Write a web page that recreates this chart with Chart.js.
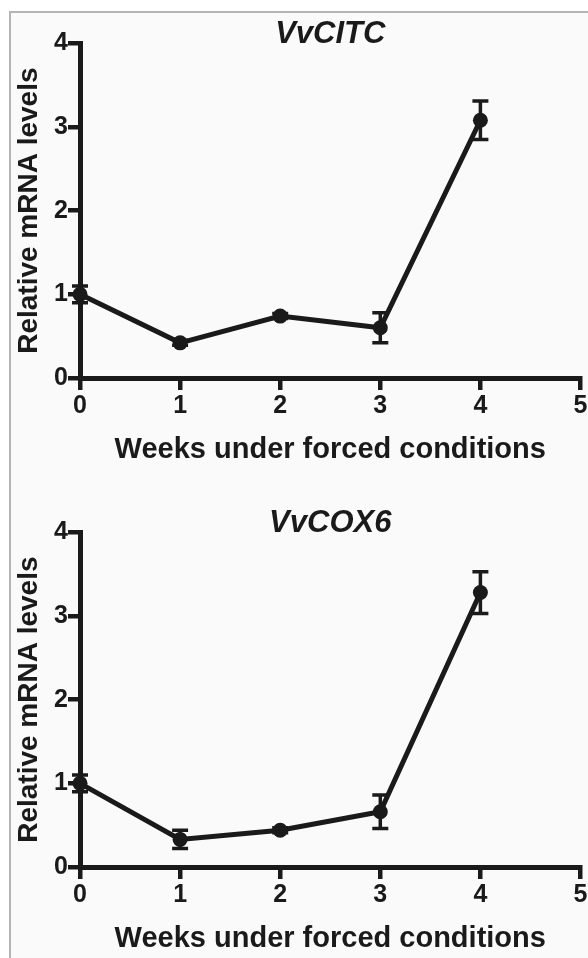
<!DOCTYPE html>
<html>
<head>
<meta charset="utf-8">
<script src="https://cdn.jsdelivr.net/npm/chart.js@4.4.1/dist/chart.umd.min.js"></script>
<style>
  html, body { margin: 0; padding: 0; background: #fff; overflow: hidden; }
  body { width: 588px; height: 958px; position: relative; }
  #frame {
    position: absolute; left: 9px; top: 11px; right: 0; bottom: 0;
    border-left: 2px solid #b4b4b4; border-top: 2px solid #b4b4b4;
    background: #fafafa;
  }
  canvas { position: absolute; left: 0; }
</style>
</head>
<body>
<div id="frame"></div>
<canvas id="chartTop" width="588" height="489" style="top:0"></canvas>
<canvas id="chartBottom" width="588" height="489" style="top:489px"></canvas>
<script>
// Dados
const weeks = [0, 1, 2, 3, 4];
const xTicks = [0, 1, 2, 3, 4, 5];
const yTicks = [0, 1, 2, 3, 4];

const citcValues = [1.0, 0.42, 0.74, 0.60, 3.08];
const citcErrors = [0.10, 0.03, 0.03, 0.18, 0.23];

const cox6Values = [1.0, 0.33, 0.44, 0.66, 3.28];
const cox6Errors = [0.10, 0.11, 0.03, 0.20, 0.25];

const INK = '#1a1a1a';
const FONT = '"Liberation Sans", Arial, sans-serif';

// barras de erro desenhadas com as escalas do gráfico
const errorBars = {
    id: 'errorBars',
    beforeDatasetsDraw(chart, args, opts) {
        const errs = opts.errors || [];
        const xs = chart.scales.x, ys = chart.scales.y;
        const ctx = chart.ctx;
        const data = chart.data.datasets[0].data;
        ctx.save();
        ctx.strokeStyle = INK;
        ctx.lineWidth = 3.5;
        data.forEach((p, i) => {
            const e = errs[i];
            if (!e) return;
            const x = xs.getPixelForValue(p.x);
            const yTop = ys.getPixelForValue(p.y + e);
            const yBot = ys.getPixelForValue(p.y - e);
            ctx.beginPath();
            ctx.moveTo(x, yTop); ctx.lineTo(x, yBot);
            ctx.moveTo(x - 8, yTop); ctx.lineTo(x + 8, yTop);
            ctx.moveTo(x - 8, yBot); ctx.lineTo(x + 8, yBot);
            ctx.stroke();
        });
        ctx.restore();
    }
};

function makeChart(canvasId, title, values, errors) {
    const points = weeks.map((w, i) => ({ x: w, y: values[i] }));
    return new Chart(document.getElementById(canvasId), {
        type: 'line',
        data: {
            datasets: [{
                data: points,
                borderColor: INK,
                borderWidth: 5,
                pointRadius: 7.5,
                pointBackgroundColor: INK,
                pointBorderColor: INK,
                pointBorderWidth: 0,
                tension: 0,
                clip: false
            }]
        },
        options: {
            responsive: false,
            animation: false,
            layout: { padding: { left: 0, right: 4, top: 0, bottom: 0 } },
            plugins: {
                legend: { display: false },
                tooltip: { enabled: false },
                title: {
                    display: true,
                    text: title,
                    color: INK,
                    fullSize: false,
                    font: { family: FONT, size: 31, weight: 'bold', style: 'italic', lineHeight: 0.6 },
                    padding: { top: 24.7, bottom: 0 }
                },
                errorBars: { errors: errors }
            },
            scales: {
                x: {
                    type: 'linear',
                    min: 0,
                    max: 5,
                    afterBuildTicks: s => { s.ticks = xTicks.map(v => ({ value: v })); },
                    afterFit: s => { s.height = 111; s.paddingRight = 0; s.paddingLeft = 0; },
                    border: { display: true, color: INK, width: 5 },
                    grid: { drawOnChartArea: false, drawTicks: true, tickLength: 12, lineWidth: 4.5, color: INK },
                    ticks: { color: INK, padding: 1, font: { family: FONT, size: 25, weight: 'bold' } },
                    title: {
                        display: true,
                        text: 'Weeks under forced conditions',
                        color: INK,
                        font: { family: FONT, size: 29, weight: 'bold' },
                        padding: { top: 0, bottom: 21.6 }
                    }
                },
                y: {
                    min: 0,
                    max: 4,
                    afterBuildTicks: s => { s.ticks = yTicks.map(v => ({ value: v })); },
                    afterFit: s => { s.width = 80; },
                    border: { display: true, color: INK, width: 5 },
                    grid: { drawOnChartArea: false, drawTicks: true, tickLength: 12, lineWidth: 4.5, color: INK },
                    ticks: { color: INK, padding: 0, font: { family: FONT, size: 25, weight: 'bold' } },
                    title: {
                        display: true,
                        text: 'Relative mRNA levels',
                        color: INK,
                        font: { family: FONT, size: 28, weight: 'bold' },
                        padding: { top: 12.2, bottom: 0 }
                    }
                }
            }
        },
        plugins: [errorBars]
    });
}

makeChart('chartTop', 'VvCITC', citcValues, citcErrors);
makeChart('chartBottom', 'VvCOX6', cox6Values, cox6Errors);
</script>
</body>
</html>
